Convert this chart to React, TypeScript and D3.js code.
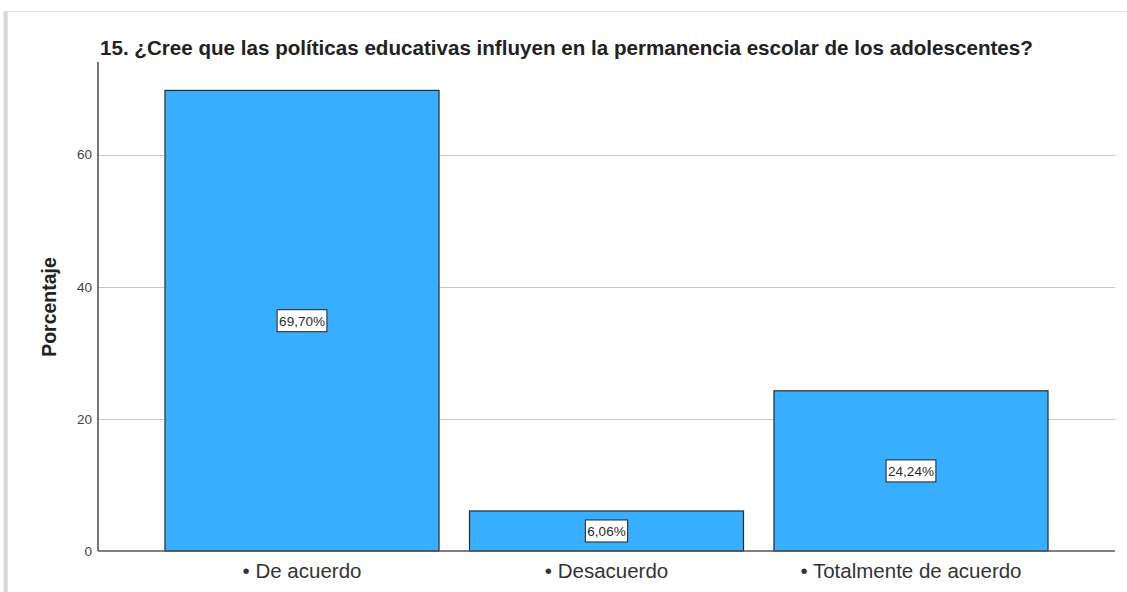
import React, { useEffect, useRef } from 'react';
import * as d3 from 'd3';

const categories = ['• De acuerdo', '• Desacuerdo', '• Totalmente de acuerdo'];
const percentages = [69.7, 6.06, 24.24];
const valueLabels = ['69,70%', '6,06%', '24,24%'];
const yTicks = [0, 20, 40, 60];
const title = '15. ¿Cree que las políticas educativas influyen en la permanencia escolar de los adolescentes?';
const yTitle = 'Porcentaje';

function App() {
  const ref = useRef<SVGSVGElement>(null);

  useEffect(() => {
    const svg = d3.select(ref.current);
    svg.selectAll('*').remove();
    const width = 1127;
    const height = 592;
    const margin = { top: 62, right: 12, bottom: 41, left: 98 };
    const font = "'Liberation Sans', Arial, sans-serif";

    // image frame (screenshot edges)
    svg.append('line').attr('x1', 7).attr('x2', width).attr('y1', 11.5).attr('y2', 11.5)
      .attr('stroke', '#e2e2e2').attr('stroke-width', 1);
    svg.append('line').attr('x1', 5).attr('x2', 5).attr('y1', 11).attr('y2', height)
      .attr('stroke', '#d8d8d8').attr('stroke-width', 3);
    svg.append('line').attr('x1', 7).attr('x2', 7).attr('y1', 11).attr('y2', height)
      .attr('stroke', '#c4c4c4').attr('stroke-width', 1);

    const x = d3
      .scaleBand()
      .domain(categories)
      .range([margin.left, width - margin.right])
      .paddingInner(0.1)
      .paddingOuter(0.22);

    const y = d3
      .scaleLinear()
      .domain([0, 74])
      .range([height - margin.bottom, margin.top]);

    // gridlines
    svg.append('g')
      .selectAll('line')
      .data(yTicks.filter(t => t > 0))
      .join('line')
      .attr('x1', margin.left)
      .attr('x2', width - margin.right)
      .attr('y1', d => Math.round(y(d)) + 0.5)
      .attr('y2', d => Math.round(y(d)) + 0.5)
      .attr('stroke', '#c6c6c6')
      .attr('stroke-width', 1);

    // bars
    svg.append('g')
      .selectAll('rect')
      .data(percentages)
      .join('rect')
      .attr('x', (d, i) => x(categories[i]) as number)
      .attr('width', x.bandwidth())
      .attr('y', d => y(d))
      .attr('height', d => y(0) - y(d))
      .attr('fill', '#37aeff')
      .attr('stroke', '#2b2b2b')
      .attr('stroke-width', 1.2);

    // value labels
    const lbl = svg.append('g')
      .selectAll('g')
      .data(percentages)
      .join('g')
      .attr('transform', (d, i) =>
        `translate(${(x(categories[i]) as number) + x.bandwidth() / 2},${y(d / 2)})`);
    lbl.append('text')
      .text((d, i) => valueLabels[i])
      .attr('text-anchor', 'middle')
      .attr('dy', '0.36em')
      .attr('font-family', font)
      .attr('font-size', 13.5)
      .attr('fill', '#2a2a2a')
      .each(function () {
        const bb = (this as SVGTextElement).getBBox();
        d3.select((this as SVGTextElement).parentNode as SVGGElement)
          .insert('rect', 'text')
          .attr('x', bb.x - 2)
          .attr('y', -11)
          .attr('width', bb.width + 4)
          .attr('height', 22)
          .attr('fill', '#fff')
          .attr('stroke', '#222')
          .attr('stroke-width', 1);
      });

    // y axis
    svg.append('g')
      .attr('transform', `translate(${margin.left},0)`)
      .call(d3.axisLeft(y).tickValues(yTicks).tickSize(0).tickPadding(6).tickFormat(d3.format('d')))
      .call(g => g.select('.domain').remove())
      .call(g => g.selectAll('text')
        .attr('font-family', font).attr('font-size', 13.5).attr('fill', '#444'));
    svg.append('line')
      .attr('x1', margin.left).attr('x2', margin.left)
      .attr('y1', margin.top).attr('y2', y(0))
      .attr('stroke', '#555').attr('stroke-width', 1.6);

    // x axis
    svg.append('g')
      .attr('transform', `translate(0,${y(0)})`)
      .call(d3.axisBottom(x).tickSize(0))
      .call(g => g.select('.domain').remove())
      .call(g => g.selectAll('text')
        .attr('y', 27).attr('dy', null)
        .attr('font-family', font).attr('font-size', 20.5).attr('fill', '#333'));
    svg.append('line')
      .attr('x1', margin.left).attr('x2', width - margin.right)
      .attr('y1', y(0)).attr('y2', y(0))
      .attr('stroke', '#555').attr('stroke-width', 1.6);

    // titles
    svg.append('text')
      .text(title)
      .attr('x', 100)
      .attr('y', 55)
      .attr('font-family', font)
      .attr('font-weight', 'bold')
      .attr('font-size', 20.6)
      .attr('fill', '#222');

    svg.append('text')
      .text(yTitle)
      .attr('transform', 'translate(56,307) rotate(-90)')
      .attr('text-anchor', 'middle')
      .attr('font-family', font)
      .attr('font-weight', 'bold')
      .attr('font-size', 19.5)
      .attr('fill', '#222');
  });

  return (
    <svg
      ref={ref}
      width="1127"
      height="592"
      style={{ position: 'absolute', left: 0, top: 0, background: '#fff' }}
    />
  );
}

export default App;
